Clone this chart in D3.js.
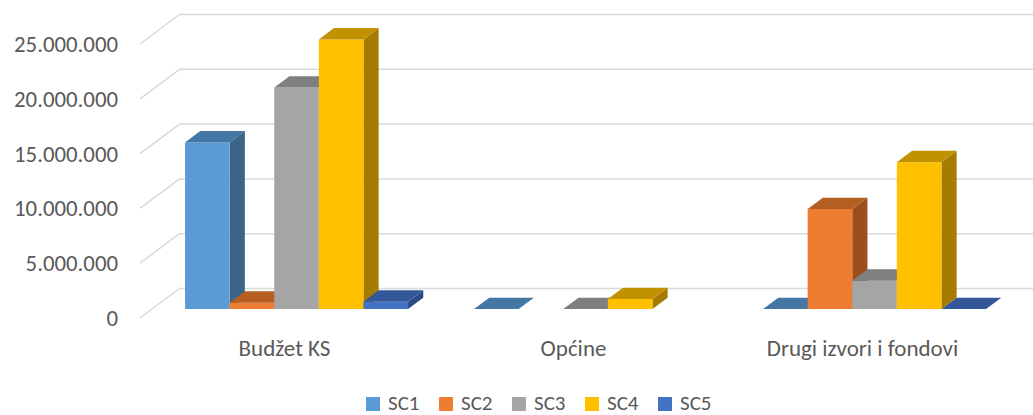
<!DOCTYPE html>
<html>
<head>
<meta charset="utf-8">
<script src="https://cdn.jsdelivr.net/npm/d3@7"></script>
<style>
  html, body { margin: 0; padding: 0; background: #fff; }
  svg { display: block; }
  text { font-family: Carlito, Lato, "Liberation Sans", sans-serif; fill: #595959; }
</style>
</head>
<body>
<svg id="chart" width="1033" height="415"></svg>
<script>
const categories = ["Budžet KS", "Općine", "Drugi izvori i fondovi"];
const seriesNames = ["SC1", "SC2", "SC3", "SC4", "SC5"];
const sc1 = [15200000, 0, 0];
const sc2 = [580000, null, 9120000];
const sc3 = [20200000, 0, 2580000];
const sc4 = [24600000, 910000, 13400000];
const sc5 = [670000, null, 0];
const tickValues = [0, 5000000, 10000000, 15000000, 20000000, 25000000];

const seriesValues = [sc1, sc2, sc3, sc4, sc5];
const frontColors = ["#5B9BD5", "#ED7D31", "#A5A5A5", "#FFC000", "#4472C4"];
const topColors   = ["#4577A5", "#B55E22", "#7F7F7F", "#C29100", "#335797"];
const sideColors  = ["#3A6488", "#9C4F1E", "#6B6B6B", "#A67C00", "#2B4B84"];

const svg = d3.select("#chart");
const W = 1033;

// 3D projection: full depth vector
const DX = 39.5, DY = 29.5;
const zFront = 0.305, zBack = 0.69;

const x0 = d3.scaleBand().domain(categories).range([140, 1007]).paddingInner(0).paddingOuter(0);
const x1 = d3.scaleBand().domain(seriesNames).range([33, x0.bandwidth() - 33]).padding(0);
const y = d3.scaleLinear().domain([0, 25000000]).range([318, 44]);

const proj = (xs, v, z) => [xs + z * DX, y(v) - z * DY];

const locale = d3.formatLocale({ decimal: ",", thousands: ".", grouping: [3], currency: ["", ""] });
const fmt = locale.format(",");

// gridlines: side wall diagonals + back wall lines
const grid = svg.append("g");
tickValues.forEach(t => {
  const a = proj(140, t, 0), b = proj(140, t, 1);
  grid.append("line").attr("x1", a[0]).attr("y1", a[1]).attr("x2", b[0]).attr("y2", b[1])
    .attr("stroke", "#D9D9D9").attr("stroke-width", 1.5);
  grid.append("line").attr("x1", b[0]).attr("y1", b[1]).attr("x2", W).attr("y2", b[1])
    .attr("stroke", "#D9D9D9").attr("stroke-width", 1.5);
});

// y-axis labels
svg.append("g").selectAll("text").data(tickValues).join("text")
  .attr("x", 118).attr("y", d => y(d)).attr("dy", "0.35em")
  .attr("text-anchor", "end").attr("font-size", 22.8).text(d => fmt(d));

// bars
const bars = svg.append("g");
categories.forEach((cat, ci) => {
  seriesNames.forEach((s, si) => {
    const v = seriesValues[si][ci];
    if (v === null || v === undefined) return;
    const xl = x0(cat) + x1(s), xr = xl + x1.bandwidth();
    const fbl = proj(xl, 0, zFront), fbr = proj(xr, 0, zFront);
    const ftl = proj(xl, v, zFront), ftr = proj(xr, v, zFront);
    const btl = proj(xl, v, zBack), btr = proj(xr, v, zBack), bbr = proj(xr, 0, zBack);
    const poly = pts => pts.map(p => p.join(",")).join(" ");
    bars.append("polygon").attr("points", poly([fbr, ftr, btr, bbr])).attr("fill", sideColors[si]);
    if (v > 0) bars.append("polygon").attr("points", poly([fbl, fbr, ftr, ftl])).attr("fill", frontColors[si]);
    bars.append("polygon").attr("points", poly([ftl, ftr, btr, btl])).attr("fill", topColors[si]);
  });
});

// category labels
svg.append("g").selectAll("text").data(categories).join("text")
  .attr("x", d => x0(d) + x0.bandwidth() / 2).attr("y", 356)
  .attr("text-anchor", "middle").attr("font-size", 23).text(d => d);

// legend
const leg = svg.append("g").selectAll("g").data(seriesNames).join("g")
  .attr("transform", (d, i) => `translate(${366 + i * 73},0)`);
leg.append("rect").attr("x", 0).attr("y", 397).attr("width", 14).attr("height", 14)
  .attr("fill", (d, i) => frontColors[i]);
leg.append("text").attr("x", 22).attr("y", 410).attr("font-size", 21).text(d => d);
</script>
</body>
</html>
